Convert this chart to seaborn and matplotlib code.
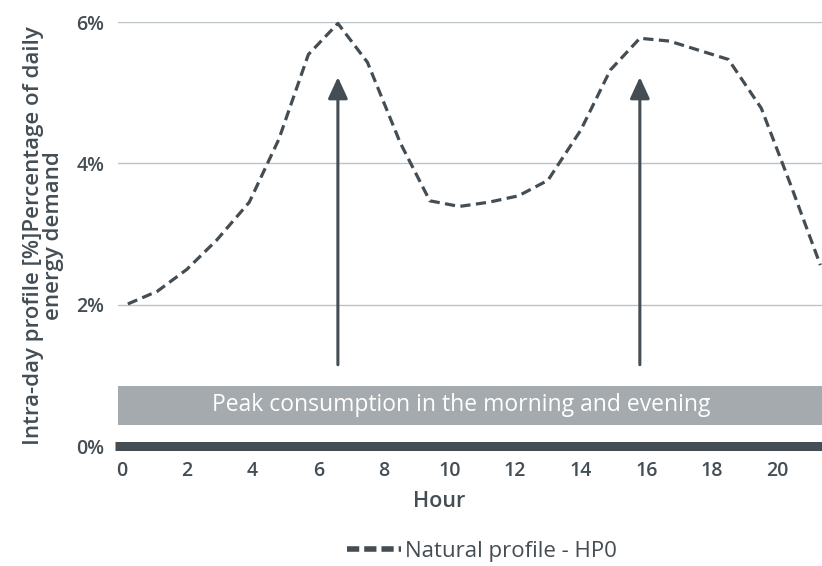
import matplotlib
matplotlib.use("Agg")
import matplotlib.pyplot as plt
from matplotlib.lines import Line2D
import seaborn as sns
import pandas as pd

# Hour of day (as read on the axis) and share of daily energy demand (%)
hours = [0.2, 1.1, 2.0, 2.9, 3.9, 4.8, 5.7, 6.6, 7.5, 8.5, 9.4, 10.3,
         11.2, 12.1, 13.0, 14.0, 14.9, 15.8, 16.7, 17.6, 18.5, 19.5, 20.4, 21.3]
share = [2.01, 2.19, 2.50, 2.91, 3.45, 4.34, 5.54, 5.98, 5.43, 4.29, 3.47, 3.39,
         3.45, 3.54, 3.76, 4.47, 5.32, 5.77, 5.73, 5.60, 5.47, 4.78, 3.69, 2.56]

x_ticks = [0, 2, 4, 6, 8, 10, 12, 14, 16, 18, 20]
y_ticks = [0, 2, 4, 6]
y_tick_labels = ["0%", "2%", "4%", "6%"]

series_name = "Natural profile - HP0"
banner_text = "Peak consumption in the morning and evening"
x_title = "Hour"
y_title = "Intra-day profile [%]Percentage of daily\nenergy demand"

DARK = "#434d53"
GRID = "#bcc3c7"
BANNER = "#a4aaae"

sns.set_style("white")
plt.rcParams["font.family"] = ["Open Sans", "DejaVu Sans"]

df = pd.DataFrame({"hour": hours, "share": share})

fig = plt.figure(figsize=(8.22, 5.66), dpi=100)
ax = fig.add_axes([118 / 822, 120 / 566, 1 - 118 / 822, (446 - 22) / 566])

# horizontal grid
for yv in y_ticks[1:]:
    ax.axhline(yv, color=GRID, lw=1.0, zorder=0)

# banner across the plot
ax.axhspan(0.30, 0.85, color=BANNER, lw=0, zorder=1)
ax.text(10.35, 0.575, banner_text, ha="center", va="center",
        color="white", fontsize=16.5, zorder=2)

# profile line
sns.lineplot(data=df, x="hour", y="share", ax=ax, color=DARK, lw=2.3,
             zorder=3, clip_on=False)
ax.lines[-1].set_dashes((3.2, 1.7))

# arrows at the two peaks
half = len(share) // 2
morning = max(range(half), key=lambda i: share[i])
evening = max(range(half, len(share)), key=lambda i: share[i])
for idx in (morning, evening):
    ax.annotate("", xy=(hours[idx], 5.22), xytext=(hours[idx], 1.15),
                arrowprops=dict(arrowstyle="-|>,head_width=0.3,head_length=0.65",
                                mutation_scale=20, lw=2.2, color=DARK,
                                shrinkA=0, shrinkB=0),
                zorder=4)

# thick baseline
ax.plot([-0.2, 21.4], [0, 0], color=DARK, lw=6.5, solid_capstyle="butt",
        clip_on=False, zorder=5)

ax.set_xlim(-0.1, 21.35)
ax.set_ylim(0, 6)
ax.set_xticks(x_ticks)
ax.set_xticklabels([str(t) for t in x_ticks])
ax.set_yticks(y_ticks)
ax.set_yticklabels(y_tick_labels)
ax.tick_params(axis="both", length=0, labelsize=14, labelcolor=DARK)
ax.tick_params(axis="x", pad=11)
ax.tick_params(axis="y", pad=10)
for lab in ax.get_xticklabels() + ax.get_yticklabels():
    lab.set_fontweight("semibold")

for s in ax.spines.values():
    s.set_visible(False)

ax.set_xlabel(x_title, fontsize=15.5, color=DARK, fontweight="semibold")
ax.xaxis.set_label_coords(0.456, -0.105)
ax.set_ylabel(y_title, fontsize=16, color=DARK, fontweight="semibold",
              linespacing=0.95)
ax.yaxis.set_label_coords(-0.077, 0.497)

handle = Line2D([], [], color=DARK, lw=4, dashes=(2.2, 0.9))
fig.legend([handle], [series_name], loc="center",
           bbox_to_anchor=(482 / 822, 1 - 551 / 566),
           frameon=False, fontsize=16, handlelength=2.4, handletextpad=0.2,
           labelcolor=DARK)

fig.savefig("out.png", dpi=100)
